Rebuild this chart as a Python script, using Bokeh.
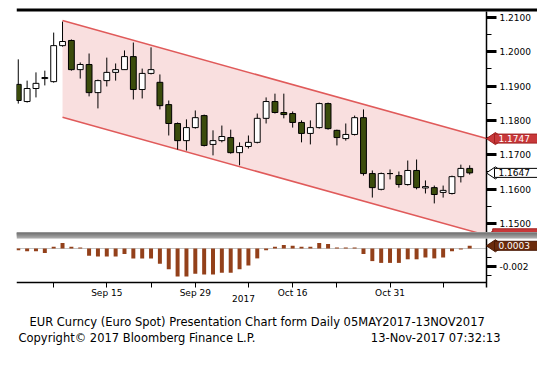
from bokeh.plotting import figure
from bokeh.layouts import column
from bokeh.models import (FixedTicker, PrintfTickFormatter, Label, BoxAnnotation,
                          Range1d, ColumnDataSource, LinearAxis)
from bokeh.embed import file_html
from bokeh.resources import INLINE
import math

# ---------------- data (EUR/USD daily, 01-Sep-2017 .. 13-Nov-2017) ----------------
day_index = list(range(52))
opens = [1.1905, 1.1855, 1.1893, 1.1922, 1.1913, 1.2018, 1.2033, 1.1948, 1.1963, 1.1881,
         1.1916, 1.1940, 1.1948, 1.1986, 1.1890, 1.1937, 1.1911, 1.1846, 1.1791, 1.1741,
         1.1779, 1.1814, 1.1730, 1.1741, 1.1750, 1.1706, 1.1724, 1.1736, 1.1806, 1.1855,
         1.1823, 1.1820, 1.1794, 1.1762, 1.1779, 1.1849, 1.1771, 1.1747, 1.1759, 1.1808,
         1.1645, 1.1599, 1.1645, 1.1639, 1.1613, 1.1654, 1.1603, 1.1604, 1.1590, 1.1587,
         1.1636, 1.1660]
highs = [1.1978, 1.1916, 1.1940, 1.1945, 1.2056, 1.2088, 1.2036, 1.1969, 1.1995, 1.1919,
         1.1983, 1.1966, 1.2004, 1.2027, 1.1951, 1.2013, 1.1934, 1.1858, 1.1794, 1.1803,
         1.1829, 1.1817, 1.1771, 1.1785, 1.1773, 1.1736, 1.1756, 1.1820, 1.1867, 1.1878,
         1.1878, 1.1826, 1.1800, 1.1800, 1.1852, 1.1852, 1.1773, 1.1791, 1.1814, 1.1832,
         1.1654, 1.1648, 1.1657, 1.1651, 1.1683, 1.1686, 1.1625, 1.1610, 1.1610, 1.1639,
         1.1671, 1.1669]
lows = [1.1849, 1.1852, 1.1867, 1.1902, 1.1910, 1.2015, 1.1945, 1.1922, 1.1870, 1.1835,
        1.1899, 1.1916, 1.1947, 1.1861, 1.1864, 1.1934, 1.1832, 1.1756, 1.1715, 1.1712,
        1.1776, 1.1724, 1.1698, 1.1736, 1.1703, 1.1669, 1.1718, 1.1733, 1.1791, 1.1820,
        1.1806, 1.1779, 1.1736, 1.1730, 1.1776, 1.1773, 1.1727, 1.1741, 1.1756, 1.1639,
        1.1575, 1.1596, 1.1628, 1.1604, 1.1610, 1.1599, 1.1587, 1.1558, 1.1575, 1.1584,
        1.1619, 1.1642]
closes = [1.1858, 1.1893, 1.1908, 1.1925, 1.2018, 1.2030, 1.1948, 1.1963, 1.1881, 1.1916,
          1.1940, 1.1948, 1.1986, 1.1890, 1.1937, 1.1948, 1.1843, 1.1791, 1.1741, 1.1779,
          1.1808, 1.1727, 1.1741, 1.1753, 1.1706, 1.1724, 1.1736, 1.1806, 1.1855, 1.1823,
          1.1817, 1.1794, 1.1762, 1.1779, 1.1849, 1.1776, 1.1750, 1.1759, 1.1808, 1.1645,
          1.1604, 1.1645, 1.1645, 1.1613, 1.1654, 1.1604, 1.1607, 1.1584, 1.1596, 1.1636,
          1.1660, 1.1647]
hist = [-0.0002, -0.0003, -0.0003, -0.0005, 0.0002, 0.0006, 0.0002, 0.0001,
        -0.0008, -0.0009, -0.0009, -0.0009, -0.0006, -0.0011, -0.0011, -0.0011,
        -0.0017, -0.0023, -0.0031, -0.0031, -0.0028, -0.0029, -0.0029, -0.0027,
        -0.0027, -0.0023, -0.0019, -0.0011, -0.0002, 0.0002, 0.0004, 0.0003,
        0.0002, 0.0002, 0.0006, 0.0005, 0.0001, 0.0001, 0.0001, -0.0006,
        -0.0014, -0.0016, -0.0016, -0.0016, -0.0012, -0.0012, -0.0010, -0.0011,
        -0.0010, -0.0003, -0.0001, 0.0003]

x_tick_pos = [10, 20, 31, 42]
x_tick_labels = ["Sep 15", "Sep 29", "Oct 16", "Oct 31"]
x_minor_pos = [4, 15, 26, 36, 48]
year_label = "2017"

price_ticks = [1.15, 1.16, 1.17, 1.18, 1.19, 1.20, 1.21]
price_minor = [1.145, 1.155, 1.165, 1.175, 1.185, 1.195, 1.205]
hist_ticks = [-0.002]
hist_tick_labels = ["-0.002"]
hist_minor = [-0.003, -0.001]

channel_x = [5, 52.9]
channel_upper = [1.2091, 1.1747]
channel_lower = [1.1809, 1.1465]

last_price = closes[-1]
last_hist = hist[-1]

title_line = "EUR Curncy (Euro Spot) Presentation Chart form  Daily 05MAY2017-13NOV2017"
copyright_line = "Copyright\u00a9 2017 Bloomberg Finance L.P."
stamp_line = "13-Nov-2017 07:32:13"

# ---------------- styling / geometry ----------------
FONT = "DejaVu Sans"
UP_FILL = "white"
DOWN_FILL = "#3b4c0c"
CH_FILL = "#f9dfdf"
CH_LINE = "#e05a5a"
HIST_COLOR = "#93401a"
RED_TAG = "#c8383a"
BROWN_TAG = "#6b2b0b"
BAR_GREYS = ["#a6a6a6", "#8e8e8e", "#787878"]   # separator bar, bottom -> top

X0, AXIS_X, X1 = -0.2, 52.9, 58.66          # frame spans the axis strip too
TAG_TIP_X = AXIS_X + 1.0                   # centre of the pointed end of a value tag
x_range = Range1d(X0, X1)

# ---------------- main price panel ----------------
P_LO, P_HI = 1.147318, 1.212624
p1 = figure(width=537, height=232, x_range=x_range, y_range=Range1d(P_LO, P_HI),
            x_axis_location=None, y_axis_location=None, toolbar_location=None,
            output_backend="svg", min_border_left=16, min_border_right=0,
            min_border_top=8, min_border_bottom=0, outline_line_color=None)
p1.grid.visible = False

ch_xs = channel_x + channel_x[::-1]
ch_ys = channel_upper + channel_lower[::-1]
p1.patch(ch_xs, ch_ys, fill_color=CH_FILL, line_color=None)
p1.line(channel_x, channel_upper, line_color=CH_LINE, line_width=1.5)
p1.line(channel_x, channel_lower, line_color=CH_LINE, line_width=1.5)

src = ColumnDataSource(dict(
    x=day_index, o=opens, h=highs, l=lows, c=closes,
    top=[max(a, b) for a, b in zip(opens, closes)],
    bot=[min(a, b) for a, b in zip(opens, closes)],
    fill=[UP_FILL if c >= o else DOWN_FILL for o, c in zip(opens, closes)],
))
p1.segment(x0="x", y0="l", x1="x", y1="h", source=src, line_color="black", line_width=1)
p1.vbar(x="x", width=0.66, top="top", bottom="bot", source=src,
        fill_color="fill", line_color="black", line_width=1)

def style_y(ax):
    ax.axis_line_color = "black"
    ax.axis_line_width = 1.5
    ax.major_tick_in = 0
    ax.major_tick_out = 10
    ax.major_tick_line_width = 3
    ax.major_tick_line_color = "black"
    ax.minor_tick_in = 0
    ax.minor_tick_out = 5
    ax.minor_tick_line_color = "black"
    ax.major_label_standoff = 3
    ax.major_label_text_font = FONT
    ax.major_label_text_font_size = "9px"
    ax.major_label_text_color = "black"

ax = LinearAxis(fixed_location=AXIS_X, bounds=(P_LO, 1.21175),
                ticker=FixedTicker(ticks=price_ticks, minor_ticks=price_minor),
                formatter=PrintfTickFormatter(format="%.4f"))
style_y(ax)
p1.add_layout(ax, "right")

# top black rule
p1.add_layout(BoxAnnotation(left=X0, right=X1, bottom=1.21175, top=P_HI + 0.001,
                            fill_color="black", fill_alpha=1, line_color=None))

def tag(plot, yval, text, bg, fg, border):
    r = plot.scatter(x=[TAG_TIP_X], y=[yval], marker="diamond", size=18,
                     angle=math.pi / 2, fill_color=bg, line_color=border, line_width=1)
    r.level = "annotation"
    plot.add_layout(Label(x=478, x_units="screen", y=yval, text=text,
                          text_align="left", text_baseline="middle",
                          text_font=FONT, text_font_size="9px", text_color=fg,
                          background_fill_color=bg, background_fill_alpha=1,
                          border_line_color=border,
                          padding=dict(left=4, right=9, top=1, bottom=1)))

# lower channel tag: almost completely hidden under the separator bar
hid = p1.scatter(x=[TAG_TIP_X], y=[channel_lower[-1]], marker="diamond", size=18,
                 angle=math.pi / 2, fill_color=RED_TAG, line_color="#a02020")
hid.level = "annotation"
p1.rect(x=[AXIS_X + 3.3], y=[channel_lower[-1]], width=46, height=13,
        width_units="screen", height_units="screen",
        fill_color=RED_TAG, line_color="#a02020", level="annotation")
tag(p1, channel_upper[-1], "%.4f" % channel_upper[-1], RED_TAG, "white", "#a02020")
tag(p1, last_price, "%.4f" % last_price, "white", "black", "black")

# ---------------- histogram panel ----------------
H_LO, H_HI = -0.011556, 0.001778
H_FRAME_TOP = 0.001111
H_PX = 0.001 / 9.0                         # one pixel in histogram units
H_AXIS_Y = -0.003778
p2 = figure(width=537, height=120, x_range=x_range, y_range=Range1d(H_LO, H_HI),
            x_axis_location=None, y_axis_location=None, toolbar_location=None,
            output_backend="svg", min_border_left=16, min_border_right=0,
            min_border_top=0, min_border_bottom=0, outline_line_color=None)
p2.grid.visible = False
p2.segment(x0=[X0], y0=[0], x1=[AXIS_X], y1=[0], line_color="#c4c4c4", line_width=1)
p2.vbar(x=day_index, top=hist, bottom=0, width=0.45, fill_color=HIST_COLOR, line_color=None)

bx = LinearAxis(fixed_location=AXIS_X, bounds=(-0.0043, H_FRAME_TOP),
                ticker=FixedTicker(ticks=hist_ticks, minor_ticks=hist_minor),
                major_label_overrides=dict(zip(hist_ticks, hist_tick_labels)))
style_y(bx)
p2.add_layout(bx, "right")

xa = LinearAxis(fixed_location=H_AXIS_Y, bounds=(X0, AXIS_X),
                ticker=FixedTicker(ticks=x_tick_pos, minor_ticks=x_minor_pos),
                major_label_overrides=dict(zip(x_tick_pos, x_tick_labels)))
xa.axis_line_color = "black"
xa.axis_line_width = 1.5
xa.major_tick_in = 0
xa.major_tick_out = 5
xa.minor_tick_in = 0
xa.minor_tick_out = 5
xa.major_tick_line_color = "black"
xa.minor_tick_line_color = "black"
xa.major_label_standoff = 0
xa.major_label_text_font = FONT
xa.major_label_text_font_size = "9px"
xa.major_label_text_color = "black"
p2.add_layout(xa, "below")

# grey separator bar: overlapping layers, darker towards the top (no seams)
for k, g in enumerate(BAR_GREYS):
    p2.add_layout(BoxAnnotation(left=X0, right=X1, bottom=H_FRAME_TOP + k * 2 * H_PX,
                                top=H_HI + 0.001, fill_color=g, fill_alpha=1,
                                line_color=None))
tag(p2, last_hist, "%.4f" % last_hist, BROWN_TAG, "white", "#4a1a05")

def text(plot, x, y, s, align, size="11.5px"):
    plot.add_layout(Label(x=x, y=y, x_units="screen", y_units="screen", text=s,
                          text_align=align, text_baseline="middle",
                          text_font=FONT, text_font_size=size, text_color="black"))

text(p2, 227, 54, year_label, "center", "9px")
text(p2, 13, 31, title_line, "left")
text(p2, 2, 15, copyright_line, "left")
text(p2, 484, 15, stamp_line, "right")

layout = column(p1, p2)
open("out.html", "w").write(file_html(layout, INLINE))
